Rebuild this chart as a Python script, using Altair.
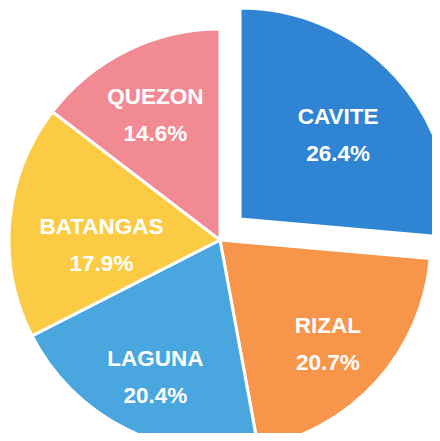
import altair as alt
import pandas as pd

names = ["CAVITE", "RIZAL", "LAGUNA", "BATANGAS", "QUEZON"]
values = [26.4, 20.7, 20.4, 17.9, 14.6]
labels = ["26.4%", "20.7%", "20.4%", "17.9%", "14.6%"]
colors = ["#2f85d3", "#f7964b", "#4aa6de", "#fbcb43", "#f28a93"]

df = pd.DataFrame({
    "name": names,
    "value": values,
    "idx": list(range(len(names))),
    "label": [n + "\n" + p for n, p in zip(names, labels)],
})

CX, CY = 212, 232      # pie centre (view coords)
EX, EY = 232, 211      # exploded CAVITE centre
R = 211

base = alt.Chart(df).encode(
    theta=alt.Theta("value:Q", stack=True),
    order=alt.Order("idx:Q"),
    color=alt.Color("name:N", scale=alt.Scale(domain=names, range=colors), legend=None),
)

is_cav = "datum.name == 'CAVITE'"
is_bat = "datum.name == 'BATANGAS'"
is_other = "datum.name != 'CAVITE' && datum.name != 'BATANGAS'"

pie = base.mark_arc(outerRadius=R, stroke="white", strokeWidth=3).encode(
    x=alt.value(CX), y=alt.value(CY),
    opacity=alt.condition(is_cav, alt.value(0), alt.value(1)),
)
explode = base.mark_arc(outerRadius=R, stroke="white", strokeWidth=3).encode(
    x=alt.value(EX), y=alt.value(EY),
    opacity=alt.condition(is_cav, alt.value(1), alt.value(0)),
)

txt_kw = dict(fontSize=22.5, fontWeight="bold", font="Liberation Sans",
              lineBreak="\n", lineHeight=37, align="center", baseline="middle")

def label_layer(cond, radius, dy, cx, cy):
    return base.mark_text(**{**txt_kw, "radius": radius, "dy": dy}).encode(
        x=alt.value(cx), y=alt.value(cy),
        text="label:N",
        color=alt.value("white"),
        opacity=alt.condition(cond, alt.value(1), alt.value(0)),
    )

text = label_layer(is_other, 146, -12, CX, CY)
text_bat = label_layer(is_bat, 119, -2, CX, CY)
text_cav = label_layer(is_cav, 133, -12, EX, EY)

chart = alt.layer(pie, explode, text, text_bat, text_cav).properties(
    width=424, height=425, padding=0,
    autosize=alt.AutoSizeParams(type="none"),
).configure_view(stroke=None)

chart.save("out.html", embed_options={"renderer": "svg", "actions": False})
